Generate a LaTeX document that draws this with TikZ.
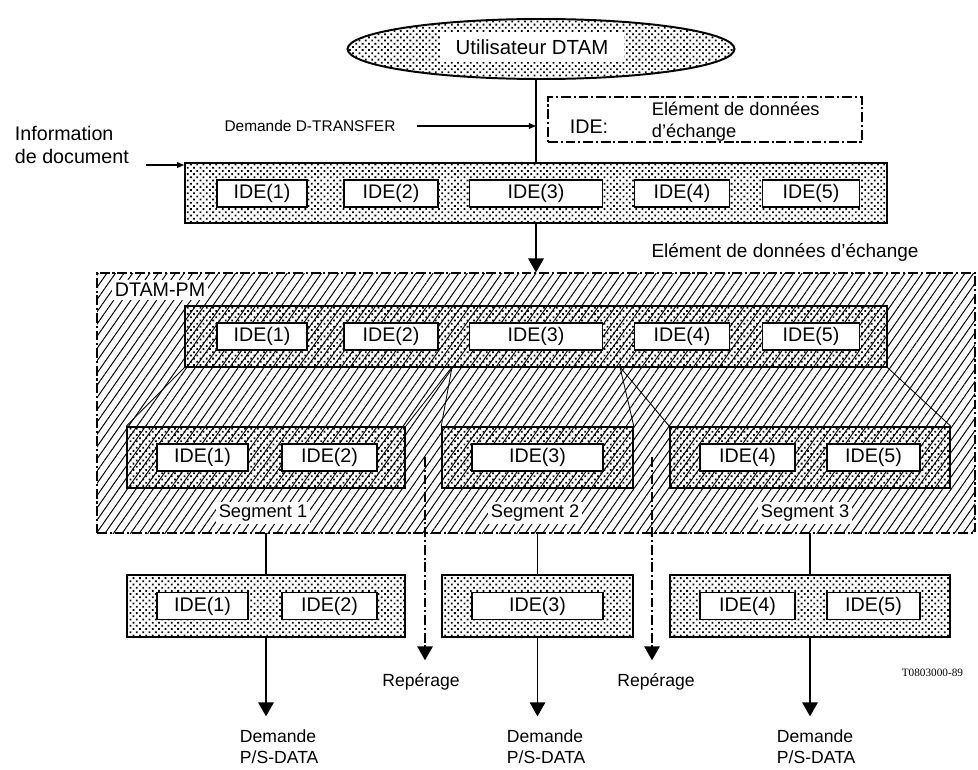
\documentclass[tikz,border=0pt]{standalone}
\usepackage{fontspec}
\setmainfont{Liberation Sans}
\newfontfamily\codefont{Liberation Serif}
\usetikzlibrary{shapes.geometric,arrows.meta,patterns.meta,positioning}

\tikzset{
  ptbar/.style={draw, line width=1.1pt, inner sep=0pt,
    pattern={Dots[distance=3.2pt,radius=0.9pt,angle=45]}},
  hatchbox/.style={draw, line width=1pt, inner sep=0pt, dashdotline,
    pattern={Lines[angle=55,distance=5pt,line width=0.7pt]}},
  idebox/.style={draw, fill=white, line width=0.8pt, minimum height=0.675cm,
    inner sep=0pt, font=\fontsize{14}{16}\selectfont},
  bigarrow/.style={line width=1.2pt, -{Triangle[length=10pt,width=11pt]}},
  smallarrow/.style={line width=0.8pt, -{Triangle[length=5pt,width=4pt]}},
  dashdotline/.style={dash pattern=on 7pt off 2pt on 1.5pt off 2pt},
  lbltext/.style={font=\fontsize{12.5}{15}\selectfont, align=left},
}

\begin{document}
\begin{tikzpicture}
        \useasboundingbox (0,0) rectangle (24.45,-19.225);

        % utilisateur et demande
        \node[ellipse, ptbar, line width=1.4pt, minimum width=9.675cm, minimum height=1.5cm] (user) at (13.525,-1.225) {};
        \node[fill=white, minimum width=4.6cm, minimum height=0.75cm, font=\fontsize{14.5}{16}\selectfont] (usertxt) at (13.3,-1.175) {Utilisateur DTAM};
        \node[lbltext, font=\fontsize{11}{13}\selectfont] (dtr) at (7.75,-3.15) {Demande D-TRANSFER};
        \node[draw, dashdotline, line width=0.8pt, minimum width=7.85cm, minimum height=1.125cm] (legend) at (17.625,-2.9875) {};
        \node[font=\fontsize{14}{16}\selectfont] (legide) at (14.725,-3.175) {IDE:};
        \node[lbltext, font=\fontsize{13}{15.5}\selectfont, anchor=west] (legtxt) at (16.175,-3.05) {El\'ement de donn\'ees\\d'\'echange};
        \node[lbltext, font=\fontsize{14}{16}\selectfont, anchor=west] (info) at (0.25,-3.625) {Information\\de document};

        % information de document
        \node[ptbar, minimum width=17.55cm, minimum height=1.5cm] (topbar) at (13.4,-4.825) {};
        \node[idebox, minimum width=2.25cm] (ta) at (6.55,-4.8375) {IDE(1)};
        \node[idebox, minimum width=2.35cm] (tb) at (9.775,-4.8375) {IDE(2)};
        \node[idebox, minimum width=3.325cm] (tc) at (13.4,-4.8375) {IDE(3)};
        \node[idebox, minimum width=2.375cm] (td) at (17.05,-4.8375) {IDE(4)};
        \node[idebox, minimum width=2.425cm] (te) at (20.275,-4.8375) {IDE(5)};
        \node[lbltext, font=\fontsize{13.5}{15}\selectfont] (elem) at (19.625,-6.3) {El\'ement de donn\'ees d'\'echange};

        \draw[line width=1.2pt] (topbar.north |- user.south) -- (topbar.north);
        \draw[smallarrow] ([xshift=12pt]dtr.east) -- (dtr -| topbar.north);
        \draw[smallarrow] ([xshift=-0.95cm,yshift=-2pt]topbar.north west) -- ([yshift=-2pt]topbar.north west);

        % DTAM-PM
        \node[hatchbox, minimum width=21.95cm, minimum height=6.5cm] (dtam) at (13.4,-10.075) {};
        \node[fill=white, inner sep=2pt, font=\fontsize{14}{16}\selectfont] (dtamlbl) at (4.0,-7.25) {DTAM-PM};
        \draw[bigarrow] (topbar.south) -- (dtam.north);

        \node[ptbar, minimum width=17.55cm, minimum height=1.525cm] (inbar) at (13.4,-8.4125) {};
        \node[idebox, minimum width=2.25cm] (ia) at (6.55,-8.4125) {IDE(1)};
        \node[idebox, minimum width=2.35cm] (ib) at (9.775,-8.4125) {IDE(2)};
        \node[idebox, minimum width=3.325cm] (ic) at (13.4,-8.4125) {IDE(3)};
        \node[idebox, minimum width=2.375cm] (id) at (17.05,-8.4125) {IDE(4)};
        \node[idebox, minimum width=2.425cm] (ie) at (20.275,-8.4125) {IDE(5)};

        % segments
        \node[ptbar, minimum width=6.95cm, minimum height=1.525cm] (sega) at (6.65,-11.4375) {};
        \node[ptbar, minimum width=4.775cm, minimum height=1.525cm] (segb) at (13.4375,-11.4375) {};
        \node[ptbar, minimum width=7cm, minimum height=1.525cm] (segc) at (20.25,-11.4375) {};
        \node[idebox, minimum width=2.275cm] (sa1) at (5.0625,-11.4375) {IDE(1)};
        \node[idebox, minimum width=2.375cm] (sa2) at (8.2375,-11.4375) {IDE(2)};
        \node[idebox, minimum width=3.275cm] (sb3) at (13.4375,-11.4375) {IDE(3)};
        \node[idebox, minimum width=2.375cm] (sc4) at (18.6875,-11.4375) {IDE(4)};
        \node[idebox, minimum width=2.325cm] (sc5) at (21.8375,-11.4375) {IDE(5)};
        \node[fill=white, inner sep=2pt, font=\fontsize{13}{15}\selectfont] (sega lbl) at (6.575,-12.825) {Segment 1};
        \node[fill=white, inner sep=2pt, font=\fontsize{13}{15}\selectfont] (segb lbl) at (13.375,-12.825) {Segment 2};
        \node[fill=white, inner sep=2pt, font=\fontsize{13}{15}\selectfont] (segc lbl) at (20.125,-12.825) {Segment 3};

        \coordinate (fa) at (11.3,-9.175);
        \coordinate (fb) at (15.5,-9.175);
        \draw[line width=0.6pt] (inbar.south west) -- (sega.north west);
        \draw[line width=0.6pt] (fa) -- (sega.north east);
        \draw[line width=0.6pt] (fa) -- (segb.north west);
        \draw[line width=0.6pt] (fb) -- (segb.north east);
        \draw[line width=0.6pt] (fb) -- (segc.north west);
        \draw[line width=0.6pt] (inbar.south east) -- (segc.north east);

        % segments transmis
        \node[ptbar, minimum width=6.95cm, minimum height=1.55cm] (lowa) at (6.65,-15.15) {};
        \node[ptbar, minimum width=4.775cm, minimum height=1.55cm] (lowb) at (13.4375,-15.15) {};
        \node[ptbar, minimum width=7cm, minimum height=1.55cm] (lowc) at (20.25,-15.15) {};
        \node[idebox, minimum width=2.275cm] (la1) at (5.0625,-15.15) {IDE(1)};
        \node[idebox, minimum width=2.375cm] (la2) at (8.2375,-15.15) {IDE(2)};
        \node[idebox, minimum width=3.275cm] (lb3) at (13.4375,-15.15) {IDE(3)};
        \node[idebox, minimum width=2.375cm] (lc4) at (18.6875,-15.15) {IDE(4)};
        \node[idebox, minimum width=2.325cm] (lc5) at (21.8375,-15.15) {IDE(5)};

        \draw[line width=1.2pt] (lowa.north |- dtam.south) -- (lowa.north);
        \draw[line width=1.2pt] (lowb.north |- dtam.south) -- (lowb.north);
        \draw[line width=1.2pt] (lowc.north |- dtam.south) -- (lowc.north);

        \node[lbltext, anchor=north west] (psa) at (5.875,-18.12) {Demande\\P/S-DATA};
        \node[lbltext, anchor=north west] (psb) at (12.55,-18.12) {Demande\\P/S-DATA};
        \node[lbltext, anchor=north west] (psc) at (19.3,-18.12) {Demande\\P/S-DATA};
        \draw[bigarrow, shorten >=6pt] (lowa.south) -- (lowa.south |- psa.north);
        \draw[bigarrow, shorten >=6pt] (lowb.south) -- (lowb.south |- psb.north);
        \draw[bigarrow, shorten >=6pt] (lowc.south) -- (lowc.south |- psc.north);

        % reperage
        \coordinate (ra) at (10.625,-11.425);
        \coordinate (rb) at (16.3,-11.425);
        \node[lbltext] (repa) at (10.525,-17.05) {Rep\'erage};
        \node[lbltext] (repb) at (16.4,-17.05) {Rep\'erage};
        \draw[bigarrow, dashdotline, shorten >=6pt] (ra) -- (ra |- repa.north);
        \draw[bigarrow, dashdotline, shorten >=6pt] (rb) -- (rb |- repb.north);

        \node[anchor=east, font=\codefont\fontsize{8}{9}\selectfont] (ref) at (24.2,-16.825) {T0803000-89};
    \end{tikzpicture}
\end{document}
